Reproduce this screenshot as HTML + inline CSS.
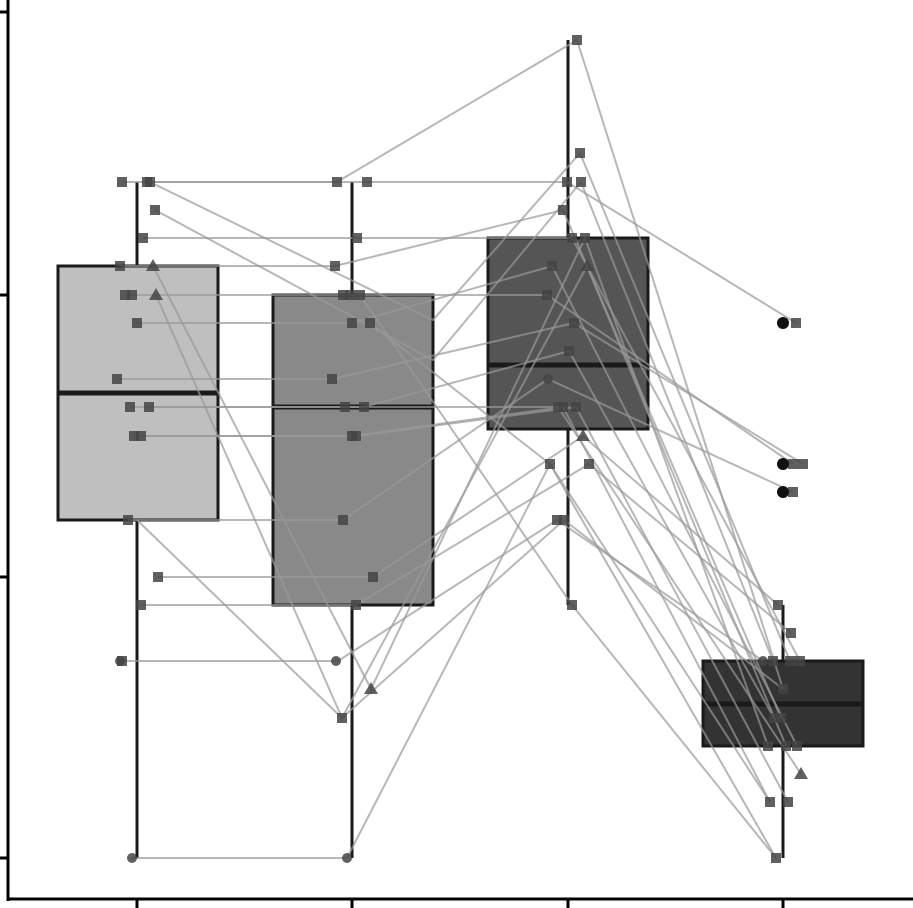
<!DOCTYPE html>
<html><head><meta charset="utf-8"><style>html,body{margin:0;padding:0;background:#fff}svg{display:block}</style></head>
<body>
<svg width="913" height="908" viewBox="0 0 913 908" xmlns="http://www.w3.org/2000/svg">
<rect width="913" height="908" fill="#fff"/>
<!-- boxes -->
<g stroke="#1a1a1a" stroke-width="3">
<line x1="137" y1="182" x2="137" y2="858"/>
<rect x="58" y="266" width="160" height="254" fill="#bfbfbf"/>
<line x1="58" y1="393" x2="218" y2="393" stroke-width="5"/>
<line x1="352" y1="182" x2="352" y2="858"/>
<rect x="273" y="295" width="160" height="310" fill="#898989"/>
<line x1="273" y1="407" x2="433" y2="407" stroke-width="5"/>
<line x1="568" y1="40" x2="568" y2="605"/>
<rect x="488" y="238" width="160" height="191" fill="#555"/>
<line x1="488" y1="365" x2="648" y2="365" stroke-width="5"/>
<line x1="783" y1="605" x2="783" y2="858"/>
<rect x="703" y="661" width="160" height="85" fill="#333"/>
<line x1="703" y1="704" x2="863" y2="704" stroke-width="5"/>
</g>
<!-- lines -->
<g fill="none" stroke="#999" stroke-opacity="0.7" stroke-width="2">
<polyline points="122,182 337,182 577,40 783,689"/>
<polyline points="147,182 367,182 567,182 796,323"/>
<polyline points="150,182 433,320 580,153 790,661"/>
<polyline points="155,210 433,360 581,182 773,661"/>
<polyline points="143,238 357,238 572,238 800,661"/>
<polyline points="120,266 335,266 563,210 781,718"/>
<polyline points="153,266 371,689 585,238 768,746"/>
<polyline points="125,295 350,295 547,295 793,464"/>
<polyline points="156,295 342,718 587,266 786,746"/>
<polyline points="137,323 352,323 552,266 797,746"/>
<polyline points="117,379 332,379 574,323 803,464"/>
<polyline points="130,407 364,407 569,351 774,718"/>
<polyline points="149,407 345,407 558,407 801,774"/>
<polyline points="134,436 352,436 563,407 770,802"/>
<polyline points="141,436 356,436 576,407 788,802"/>
<polyline points="128,520 343,520 548,379 793,492"/>
<polyline points="158,577 373,577 583,436 778,605"/>
<polyline points="141,605 356,605 589,464 791,633"/>
<polyline points="122,661 338,661 557,520 763,661"/>
<polyline points="137,520 342,718 564,520 783,689"/>
<polyline points="132,858 347,858 550,464 776,858"/>
<polyline points="360,295 572,605 776,858"/>
<polyline points="370,323 550,464 770,802"/>
</g>
<!-- points -->
<g fill="#444" fill-opacity="0.85">
<g transform="translate(-5,-5)">
<rect x="122" y="182" width="10" height="10"/><rect x="147" y="182" width="10" height="10"/><rect x="150" y="182" width="10" height="10"/><rect x="155" y="210" width="10" height="10"/><rect x="143" y="238" width="10" height="10"/><rect x="120" y="266" width="10" height="10"/><rect x="125" y="295" width="10" height="10"/><rect x="132" y="295" width="10" height="10"/><rect x="137" y="323" width="10" height="10"/><rect x="117" y="379" width="10" height="10"/><rect x="130" y="407" width="10" height="10"/><rect x="149" y="407" width="10" height="10"/><rect x="134" y="436" width="10" height="10"/><rect x="141" y="436" width="10" height="10"/><rect x="128" y="520" width="10" height="10"/><rect x="158" y="577" width="10" height="10"/><rect x="141" y="605" width="10" height="10"/><rect x="122" y="661" width="10" height="10"/>
<rect x="337" y="182" width="10" height="10"/><rect x="367" y="182" width="10" height="10"/><rect x="357" y="238" width="10" height="10"/><rect x="335" y="266" width="10" height="10"/><rect x="343" y="295" width="10" height="10"/><rect x="350" y="295" width="10" height="10"/><rect x="360" y="295" width="10" height="10"/><rect x="352" y="323" width="10" height="10"/><rect x="370" y="323" width="10" height="10"/><rect x="332" y="379" width="10" height="10"/><rect x="345" y="407" width="10" height="10"/><rect x="364" y="407" width="10" height="10"/><rect x="352" y="436" width="10" height="10"/><rect x="356" y="436" width="10" height="10"/><rect x="343" y="520" width="10" height="10"/><rect x="373" y="577" width="10" height="10"/><rect x="356" y="605" width="10" height="10"/><rect x="342" y="718" width="10" height="10"/>
<rect x="577" y="40" width="10" height="10"/><rect x="580" y="153" width="10" height="10"/><rect x="567" y="182" width="10" height="10"/><rect x="581" y="182" width="10" height="10"/><rect x="563" y="210" width="10" height="10"/><rect x="572" y="238" width="10" height="10"/><rect x="585" y="238" width="10" height="10"/><rect x="552" y="266" width="10" height="10"/><rect x="547" y="295" width="10" height="10"/><rect x="574" y="323" width="10" height="10"/><rect x="569" y="351" width="10" height="10"/><rect x="558" y="407" width="10" height="10"/><rect x="563" y="407" width="10" height="10"/><rect x="576" y="407" width="10" height="10"/><rect x="550" y="464" width="10" height="10"/><rect x="589" y="464" width="10" height="10"/><rect x="557" y="520" width="10" height="10"/><rect x="564" y="520" width="10" height="10"/><rect x="572" y="605" width="10" height="10"/>
<rect x="796" y="323" width="10" height="10"/><rect x="793" y="464" width="10" height="10"/><rect x="803" y="464" width="10" height="10"/><rect x="793" y="492" width="10" height="10"/><rect x="778" y="605" width="10" height="10"/><rect x="791" y="633" width="10" height="10"/><rect x="773" y="661" width="10" height="10"/><rect x="790" y="661" width="10" height="10"/><rect x="800" y="661" width="10" height="10"/><rect x="783" y="689" width="10" height="10"/><rect x="774" y="718" width="10" height="10"/><rect x="781" y="718" width="10" height="10"/><rect x="768" y="746" width="10" height="10"/><rect x="786" y="746" width="10" height="10"/><rect x="797" y="746" width="10" height="10"/><rect x="770" y="802" width="10" height="10"/><rect x="788" y="802" width="10" height="10"/><rect x="776" y="858" width="10" height="10"/>
</g>
<circle cx="132" cy="858" r="5"/><circle cx="347" cy="858" r="5"/><circle cx="120" cy="661" r="5"/><circle cx="336" cy="661" r="5"/><circle cx="548" cy="379" r="5"/><circle cx="763" cy="661" r="5"/>
<path d="M153,259 l7,12 h-14z M156,288 l7,12 h-14z M371,682 l7,12 h-14z M587,259 l7,12 h-14z M583,429 l7,12 h-14z M801,767 l7,12 h-14z"/>
</g>
<g fill="#111"><circle cx="783" cy="323" r="6"/><circle cx="783" cy="464" r="6"/><circle cx="783" cy="492" r="6"/></g>
<!-- axes -->
<g stroke="#000" stroke-width="3">
<line x1="8" y1="0" x2="8" y2="901"/>
<line x1="7" y1="899" x2="913" y2="899"/>
<line x1="0" y1="12" x2="8" y2="12"/><line x1="0" y1="295" x2="8" y2="295"/><line x1="0" y1="577" x2="8" y2="577"/><line x1="0" y1="858" x2="8" y2="858"/>
<line x1="137" y1="899" x2="137" y2="908"/><line x1="352" y1="899" x2="352" y2="908"/><line x1="568" y1="899" x2="568" y2="908"/><line x1="783" y1="899" x2="783" y2="908"/>
</g>
</svg>
</body></html>
